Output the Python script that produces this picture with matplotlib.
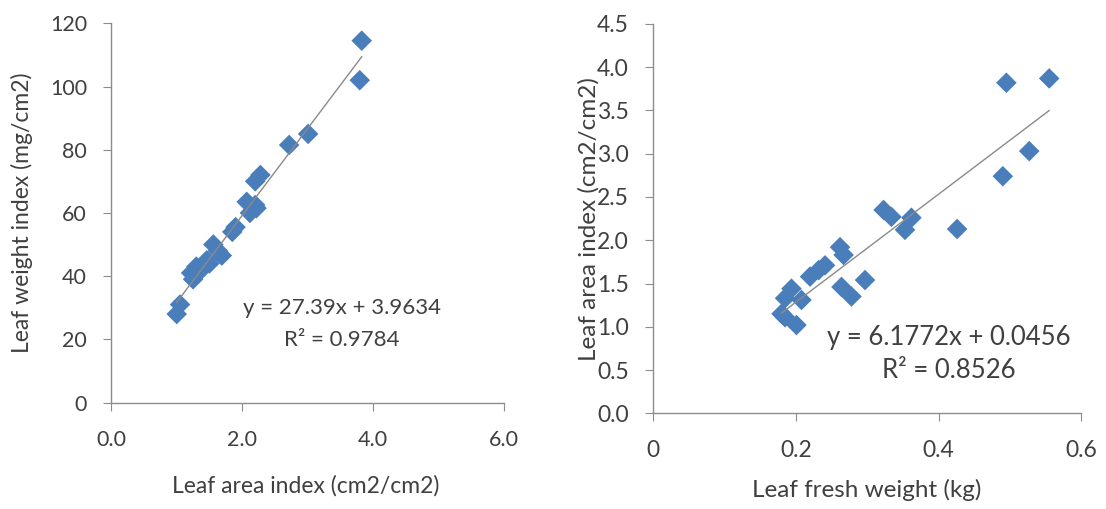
import numpy as np
import matplotlib
matplotlib.use("Agg")
import matplotlib.pyplot as plt

plt.rcParams['font.family'] = ['Lato', 'DejaVu Sans']

# left panel: leaf area index vs leaf weight index
lai = [1.00, 1.05, 1.22, 1.25, 1.30, 1.35, 1.46, 1.56, 1.50, 1.63, 1.69, 1.85, 1.90,
       2.07, 2.12, 2.22, 2.20, 2.20, 2.28, 2.72, 3.01, 3.80, 3.83]
lwi = [28, 31, 41, 39, 43, 41.5, 45, 50, 44, 48, 46.5, 54, 55.5,
       63.5, 60, 61.5, 62.5, 70, 72, 81.5, 85, 102, 114.5]
left_eq = "y = 27.39x + 3.9634"
left_r2 = "R² = 0.9784"

# right panel: leaf fresh weight vs leaf area index
lfw = [0.180, 0.185, 0.201, 0.185, 0.194, 0.208, 0.220, 0.232, 0.241, 0.262, 0.267,
       0.264, 0.278, 0.297, 0.323, 0.334, 0.353, 0.362, 0.426, 0.490, 0.495, 0.527, 0.555]
lai2 = [1.15, 1.11, 1.02, 1.33, 1.44, 1.31, 1.58, 1.655, 1.71, 1.92, 1.83,
        1.46, 1.35, 1.54, 2.35, 2.27, 2.12, 2.26, 2.13, 2.74, 3.82, 3.03, 3.87]
right_eq = "y = 6.1772x + 0.0456"
right_r2 = "R² = 0.8526"

blue = '#4a7ebb'
grey_axis = '#8c8c8c'
txt = '#404040'

fig = plt.figure(figsize=(11.06, 5.09), dpi=100)
ax1 = fig.add_axes([0.1007, 0.2092, 0.3546, 0.745])
ax2 = fig.add_axes([0.5904, 0.188, 0.3873, 0.765])


def style(ax, size):
    for s in ['top', 'right']:
        ax.spines[s].set_visible(False)
    for s in ['left', 'bottom']:
        ax.spines[s].set_color(grey_axis)
        ax.spines[s].set_linewidth(1.0)
    ax.tick_params(direction='out', length=5.5, color=grey_axis, labelsize=size,
                   labelcolor=txt)
    ax.tick_params(axis='x', pad=14)
    ax.tick_params(axis='y', pad=12)


def trend(ax, x, y):
    m, b = np.polyfit(x, y, 1)
    xs = np.array([min(x), max(x)])
    ax.plot(xs, m * xs + b, color='#8a8a8a', lw=1.0, zorder=3)


ax1.scatter(lai, lwi, marker='D', s=110, color=blue, edgecolors='none', zorder=2)
trend(ax1, lai, lwi)
ax1.set_xlim(0, 6)
ax1.set_ylim(0, 120)
ax1.set_xticks([0, 2, 4, 6])
ax1.set_xticklabels(['0.0', '2.0', '4.0', '6.0'])
ax1.set_yticks(range(0, 121, 20))
style(ax1, 15.5)
ax1.set_xlabel("Leaf area index (cm2/cm2)", fontsize=16.5, color=txt)
ax1.set_ylabel("Leaf weight index (mg/cm2)", fontsize=16.5, color=txt)
ax1.xaxis.set_label_coords(0.496, -0.22)
ax1.xaxis.label.set_va('center')
ax1.yaxis.set_label_coords(-0.228, 0.5)
ax1.yaxis.label.set_va('center')
ax1.text(3.53, 29.9, left_eq, ha='center', va='center', fontsize=16, color=txt)
ax1.text(3.53, 19.8, left_r2, ha='center', va='center', fontsize=16, color=txt)

ax2.scatter(lfw, lai2, marker='D', s=110, color=blue, edgecolors='none', zorder=2)
trend(ax2, lfw, lai2)
ax2.set_xlim(0, 0.6)
ax2.set_ylim(0, 4.5)
ax2.set_xticks([0, 0.2, 0.4, 0.6])
ax2.set_xticklabels(['0', '0.2', '0.4', '0.6'])
ax2.set_yticks(np.arange(0, 4.51, 0.5))
ax2.set_yticklabels([f"{v:.1f}" for v in np.arange(0, 4.51, 0.5)])
style(ax2, 16.5)
ax2.set_xlabel("Leaf fresh weight (kg)", fontsize=17.5, color=txt)
ax2.set_ylabel("Leaf area index (cm2/cm2)", fontsize=17.5, color=txt)
ax2.xaxis.set_label_coords(0.5, -0.197)
ax2.xaxis.label.set_va('center')
ax2.yaxis.set_label_coords(-0.149, 0.5)
ax2.yaxis.label.set_va('center')
ax2.text(0.4146, 0.875, right_eq, ha='center', va='center', fontsize=18.5, color=txt)
ax2.text(0.4146, 0.50, right_r2, ha='center', va='center', fontsize=18.5, color=txt)

fig.savefig("out.png", dpi=100)
